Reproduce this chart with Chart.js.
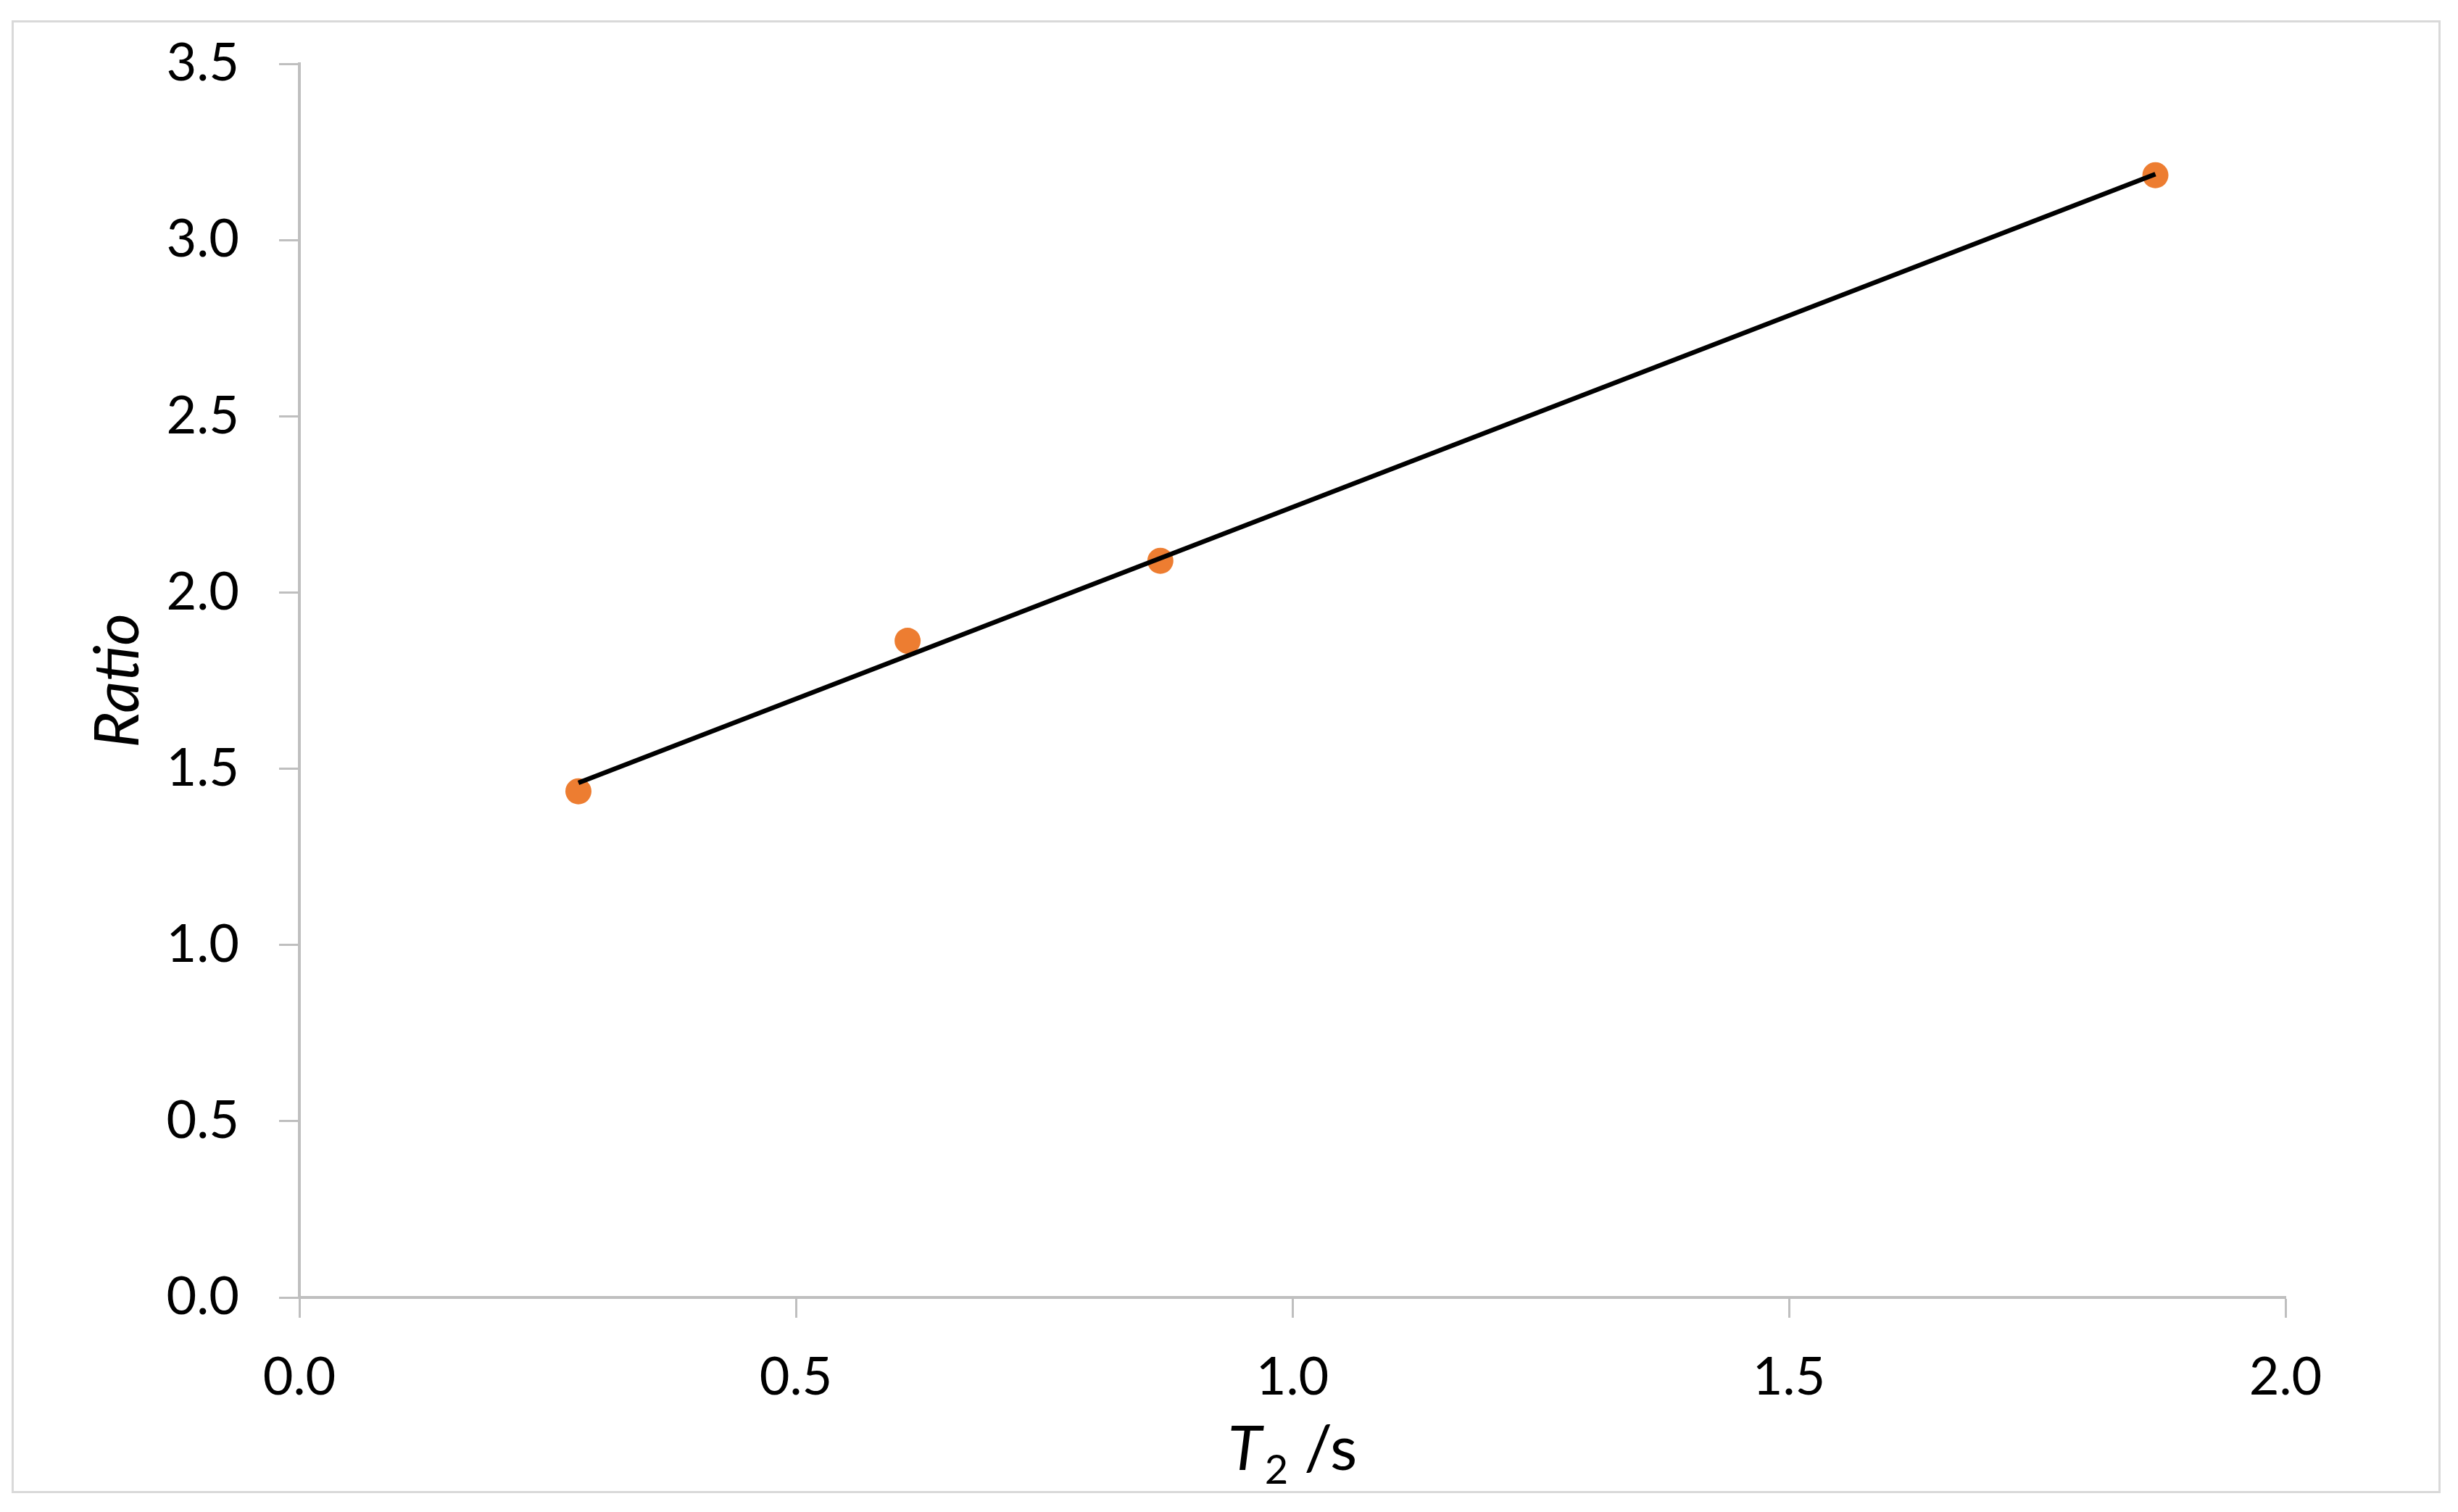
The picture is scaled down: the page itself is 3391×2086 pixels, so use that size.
<!DOCTYPE html>
<html>
<head>
<meta charset="utf-8">
<script src="https://cdn.jsdelivr.net/npm/chart.js@4/dist/chart.umd.min.js"></script>
<style>
  html, body { margin: 0; padding: 0; background: #ffffff; }
  canvas { display: block; }
</style>
</head>
<body>
<canvas id="c" width="3391" height="2086"></canvas>
<script>
// ---- Data ----
const t2Values    = [0.281, 0.6125, 0.867, 1.869];   // T2 / s
const ratioValues = [1.436, 1.863, 2.090, 3.184];    // Ratio
const trendX      = [0.281, 1.869];                  // trend line ends
const trendY      = [1.460, 3.187];
const xTickValues = [0, 0.5, 1.0, 1.5, 2.0];
const xTickLabels = ['0.0', '0.5', '1.0', '1.5', '2.0'];
const yTickValues = [0, 0.5, 1.0, 1.5, 2.0, 2.5, 3.0, 3.5];
const yTickLabels = ['0.0', '0.5', '1.0', '1.5', '2.0', '2.5', '3.0', '3.5'];
const yTitle = 'Ratio';
const xTitleParts = ['T', '2', ' /s'];

const FONT = 'Lato, "Open Sans", sans-serif';
const AXIS_COLOR = '#bfbfbf';

const frame = {
  id: 'frame',
  beforeDraw(chart) {
    const ctx = chart.ctx;
    ctx.save();
    ctx.fillStyle = '#ffffff';
    ctx.fillRect(0, 0, chart.width, chart.height);
    ctx.strokeStyle = '#d9d9d9';
    ctx.lineWidth = 3;
    ctx.strokeRect(17.5, 29.5, 3348, 2029);
    ctx.restore();
  },
  afterDraw(chart) {
    const ctx = chart.ctx;
    const a = chart.chartArea;
    const cx = (a.left + a.right) / 2;
    const baseline = 2028;
    const fMain = 'italic 86px ' + FONT;
    const fSub = '56px ' + FONT;
    const fRest = '86px ' + FONT;
    ctx.save();
    ctx.fillStyle = '#000000';
    ctx.textBaseline = 'alphabetic';
    ctx.textAlign = 'left';
    ctx.font = fMain; const w1 = ctx.measureText(xTitleParts[0]).width + 4;
    ctx.font = fSub;  const w2 = ctx.measureText(xTitleParts[1]).width;
    ctx.font = fRest; const w3 = ctx.measureText(xTitleParts[2]).width;
    let x = cx - (w1 + w2 + w3) / 2;
    ctx.font = fMain; ctx.fillText(xTitleParts[0], x, baseline); x += w1;
    ctx.font = fSub;  ctx.fillText(xTitleParts[1], x, baseline + 19); x += w2;
    ctx.font = fRest; ctx.fillText(xTitleParts[2], x, baseline);
    ctx.restore();
  }
};

new Chart(document.getElementById('c'), {
  type: 'scatter',
  data: {
    datasets: [
      {
        label: 'Trend',
        data: trendX.map((v, i) => ({ x: v, y: trendY[i] })),
        showLine: true,
        borderColor: '#000000',
        borderWidth: 6.5,
        pointRadius: 0,
        fill: false,
        order: 0
      },
      {
        label: 'Ratio',
        data: t2Values.map((v, i) => ({ x: v, y: ratioValues[i] })),
        backgroundColor: '#ED7D31',
        borderColor: '#ED7D31',
        borderWidth: 0,
        pointRadius: 18,
        order: 1
      }
    ]
  },
  options: {
    responsive: false,
    animation: false,
    devicePixelRatio: 1,
    layout: { padding: { left: 0, right: 238, top: 88, bottom: 0 } },
    plugins: { legend: { display: false }, tooltip: { enabled: false } },
    scales: {
      x: {
        type: 'linear',
        min: 0, max: 2,
        afterFit(s) { s.height = 2086 - 1790; s.paddingLeft = 0; s.paddingRight = 0; },
        afterBuildTicks(s) { s.ticks = xTickValues.map(v => ({ value: v })); },
        ticks: {
          callback: (v, i) => xTickLabels[i],
          font: { family: FONT, size: 72 },
          color: '#000000',
          padding: 40,
          maxRotation: 0
        },
        grid: {
          drawOnChartArea: false,
          drawTicks: true,
          tickLength: 28,
          tickColor: AXIS_COLOR,
          tickWidth: 3
        },
        border: { display: true, color: AXIS_COLOR, width: 4 },
        title: { display: false }
      },
      y: {
        type: 'linear',
        min: 0, max: 3.5,
        afterFit(s) { s.width = 413; s.paddingTop = 0; s.paddingBottom = 0; },
        afterBuildTicks(s) { s.ticks = yTickValues.map(v => ({ value: v })); },
        ticks: {
          callback: (v, i) => yTickLabels[i],
          font: { family: FONT, size: 72 },
          color: '#000000',
          padding: 55
        },
        grid: {
          drawOnChartArea: false,
          drawTicks: true,
          tickLength: 28,
          tickColor: AXIS_COLOR,
          tickWidth: 3
        },
        border: { display: true, color: AXIS_COLOR, width: 4 },
        title: {
          display: true,
          text: yTitle,
          color: '#000000',
          font: { family: FONT, size: 86, style: 'italic' },
          padding: { top: 112, bottom: 0 }
        }
      }
    }
  },
  plugins: [frame]
});
</script>
</body>
</html>
